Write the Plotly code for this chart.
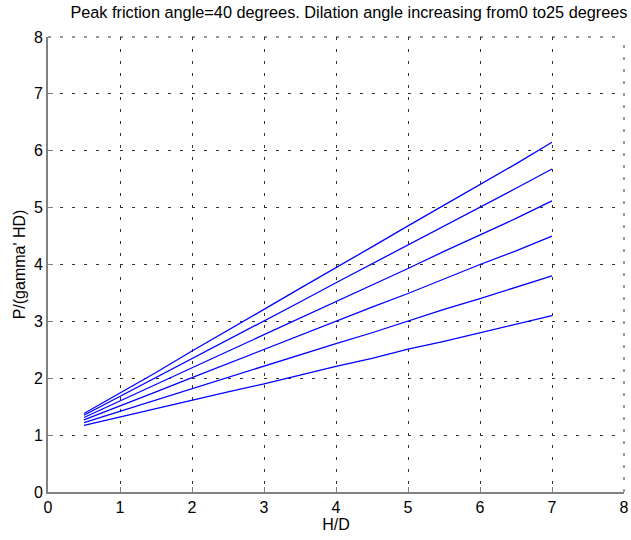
import plotly.graph_objects as go

x_hd = [0.5, 1.0, 1.5, 2.0, 2.5, 3.0, 3.5, 4.0, 4.5, 5.0, 5.5, 6.0, 6.5, 7.0]

psi_0 = [1.17, 1.32, 1.46, 1.62, 1.76, 1.90, 2.06, 2.21, 2.35, 2.51, 2.65, 2.80, 2.96, 3.10]
psi_5 = [1.22, 1.42, 1.62, 1.82, 2.01, 2.21, 2.42, 2.61, 2.80, 3.01, 3.21, 3.40, 3.60, 3.80]
psi_10 = [1.27, 1.51, 1.76, 2.01, 2.26, 2.50, 2.76, 3.00, 3.25, 3.49, 3.75, 4.00, 4.24, 4.50]
psi_15 = [1.31, 1.60, 1.89, 2.18, 2.47, 2.77, 3.06, 3.35, 3.64, 3.93, 4.23, 4.52, 4.81, 5.12]
psi_20 = [1.35, 1.68, 2.01, 2.35, 2.68, 3.01, 3.34, 3.68, 4.01, 4.35, 4.68, 5.01, 5.34, 5.68]
psi_25 = [1.38, 1.74, 2.10, 2.48, 2.84, 3.21, 3.58, 3.94, 4.31, 4.68, 5.04, 5.41, 5.77, 6.15]

series = [psi_0, psi_5, psi_10, psi_15, psi_20, psi_25]

x_ticks = [0, 1, 2, 3, 4, 5, 6, 7, 8]
y_ticks = [0, 1, 2, 3, 4, 5, 6, 7, 8]

FONT = "Liberation Sans, Arial, sans-serif"
GRID = dict(color="#333333", width=1, dash="3px,9px")

fig = go.Figure()
for s in series:
    fig.add_trace(go.Scatter(x=x_hd, y=s, mode="lines",
                             line=dict(color="#0000ff", width=1.3),
                             showlegend=False))

axis_common = dict(
    range=[0, 8],
    automargin=False,
    showgrid=True, gridcolor=GRID["color"], gridwidth=1, griddash=GRID["dash"],
    zeroline=False,
    showline=True, linecolor="#808080", linewidth=2,
    ticks="inside", ticklen=5, tickcolor="#808080", tickwidth=1,
    tickfont=dict(family=FONT, size=16, color="black"),
    title_font=dict(family=FONT, size=16, color="black"),
)

fig.update_xaxes(tickvals=x_ticks, title_text="H/D", title_standoff=4, **axis_common)
fig.update_yaxes(tickvals=y_ticks, title_text="P/(gamma' HD)", title_standoff=4, **axis_common)

# dashed grid lines along the top and right edges (plotly omits edge grid lines)
fig.add_shape(type="line", xref="paper", yref="paper", x0=0, x1=1, y0=1, y1=1,
              line=GRID, layer="below")
fig.add_shape(type="line", xref="paper", yref="paper", x0=1, x1=1, y0=0, y1=1,
              line=GRID, layer="below")

fig.update_layout(
    width=631, height=540,
    margin=dict(l=48, r=7, t=37, b=48),
    paper_bgcolor="white", plot_bgcolor="white",
    title=dict(text="Peak friction angle=40 degrees. Dilation angle increasing from0 to25 degrees",
               x=0.553, xanchor="center", y=0.977, yanchor="middle",
               font=dict(family=FONT, size=16.3, color="black")),
)

fig.write_html("out.html", config={"displayModeBar": False},
               post_script="document.body.style.margin='0';document.body.style.overflow='hidden';")
